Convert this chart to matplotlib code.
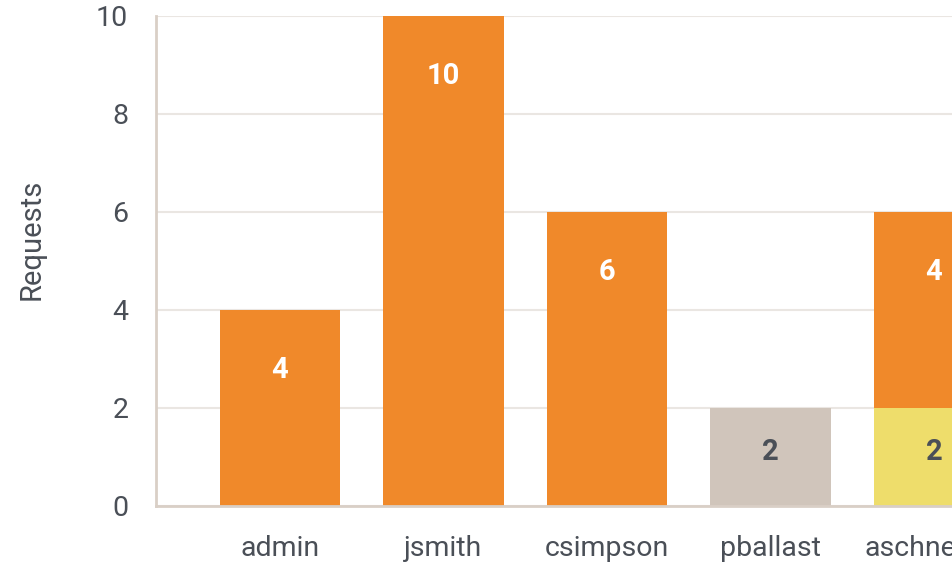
import matplotlib.pyplot as plt
import numpy as np

plt.rcParams['font.family'] = ['Roboto', 'DejaVu Sans']

# Data
users = ['admin', 'jsmith', 'csimpson', 'pballast', 'aschneider']
yellow_vals = [0, 0, 0, 0, 2]
gray_vals = [0, 0, 0, 2, 0]
orange_vals = [4, 10, 6, 0, 4]
y_ticks = [0, 2, 4, 6, 8, 10]

ORANGE = '#F0892A'
GRAY = '#D0C5BB'
YELLOW = '#EEDD6B'
DARK = '#4A4F57'

fig = plt.figure(figsize=(9.53, 5.63), dpi=100)
ax = fig.add_axes([156 / 953, 57 / 563, 1 - 156 / 953, 490 / 563])

x = np.arange(len(users))
width = 0.735

# stack segments bottom to top, label sits near the top of each segment
series = [(yellow_vals, YELLOW, DARK), (gray_vals, GRAY, DARK), (orange_vals, ORANGE, 'white')]
bottom = np.zeros(len(users))
for vals, color, txt in series:
    vals = np.array(vals, dtype=float)
    ax.bar(x, vals, width, bottom=bottom, color=color, zorder=3)
    for xi, v, b in zip(x, vals, bottom):
        if v > 0:
            off = min(1.22, 0.45 * v)
            ax.text(xi, b + v - off, f'{int(v)}', ha='center', va='center',
                    color=txt, fontsize=21, fontweight='bold', zorder=4)
    bottom += vals

ax.set_xlim(-0.758, 4.116)
ax.set_ylim(0, 10)
ax.set_yticks(y_ticks)
ax.set_xticks(x)
ax.set_xticklabels(users)

ax.grid(axis='y', color='#EAE6E2', linewidth=1.5, zorder=0)
ax.grid(axis='x', visible=False)
for s in ['top', 'right']:
    ax.spines[s].set_visible(False)
for s in ['left', 'bottom']:
    ax.spines[s].set_color('#D9CFC6')
    ax.spines[s].set_linewidth(2)
    ax.spines[s].set_zorder(5)

ax.tick_params(axis='both', length=0, labelsize=20.5, labelcolor='#4A4F57')
ax.tick_params(axis='y', pad=20)
ax.tick_params(axis='x', pad=21)

ax.set_ylabel('Requests', fontsize=21, color='#4A4F57')
ax.yaxis.set_label_coords(-0.138, 0.545)

fig.savefig('out.png', dpi=100)
